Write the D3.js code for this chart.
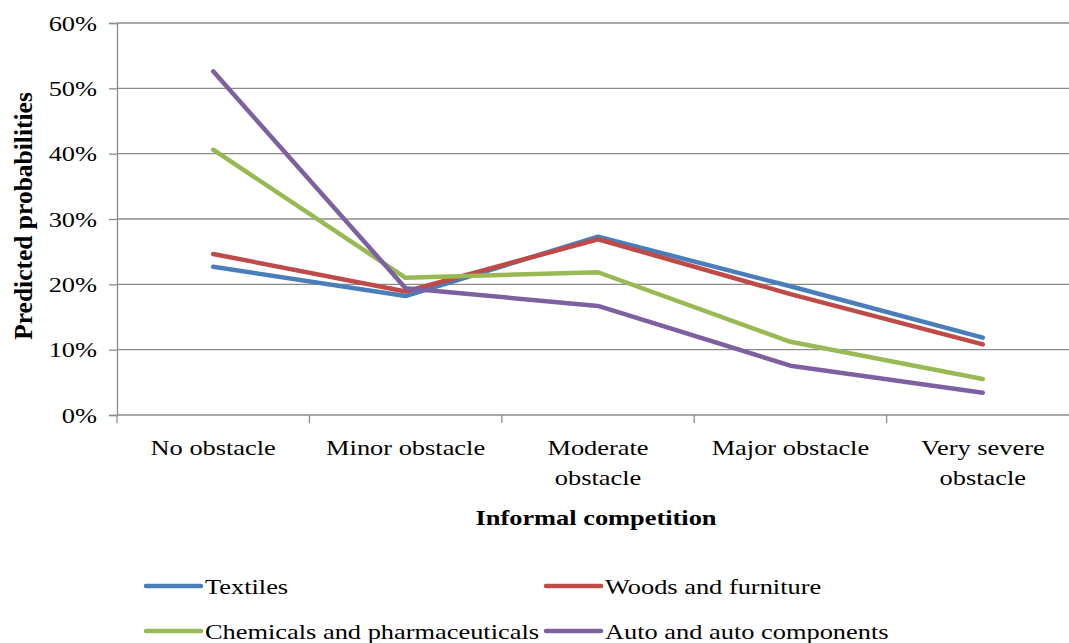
<!DOCTYPE html>
<html>
<head>
<meta charset="utf-8">
<script src="https://cdn.jsdelivr.net/npm/d3@7"></script>
<style>
  html, body { margin: 0; padding: 0; background: #fff; }
  svg { display: block; font-family: "Liberation Serif", "Times New Roman", serif; }
</style>
</head>
<body>
<svg id="chart" width="1069" height="643"></svg>
<script>
// ---- data ----
const categories = ["No obstacle", "Minor obstacle", "Moderate obstacle", "Major obstacle", "Very severe obstacle"];
const seriesNames = ["Textiles", "Woods and furniture", "Chemicals and pharmaceuticals", "Auto and auto components"];
const textiles  = [0.227, 0.182, 0.273, 0.197, 0.1185];
const woods     = [0.2465, 0.189, 0.269, 0.185, 0.108];
const chemicals = [0.406, 0.210, 0.2185, 0.112, 0.055];
const auto      = [0.526, 0.194, 0.167, 0.0755, 0.034];
const yTicks = [0, 0.1, 0.2, 0.3, 0.4, 0.5, 0.6];
const xTitle = "Informal competition";
const yTitle = "Predicted probabilities";

const seriesValues = [textiles, woods, chemicals, auto];
const colors = ["#4A7EBB", "#BE4B48", "#98B954", "#7D60A0"];

// ---- layout ----
const svg = d3.select("#chart");
const plotLeft = 117, plotTop = 23, plotBottom = 415;
const band = 192.4;
const SX = 1.2;       // horizontal stretch of text
const FS = 22;

const x = d3.scaleBand().domain(categories).range([plotLeft, plotLeft + band * categories.length]).padding(0);
const y = d3.scaleLinear().domain([0, 0.6]).range([plotBottom, plotTop]);

const gridColor = "#8c8c8c";

function stext(g, px, py, str, anchor, weight) {
  return g.append("text")
    .attr("transform", `translate(${px},${py}) scale(${SX},1)`)
    .attr("text-anchor", anchor || "start")
    .attr("font-size", FS)
    .attr("font-weight", weight || "normal")
    .attr("fill", "#000")
    .text(str);
}

// gridlines
svg.append("g").selectAll("line").data(yTicks.filter(d => d > 0)).join("line")
  .attr("x1", plotLeft).attr("x2", 1069)
  .attr("y1", d => y(d)).attr("y2", d => y(d))
  .attr("stroke", gridColor).attr("stroke-width", 1.3);

// y axis
const yAxis = svg.append("g").attr("transform", `translate(${plotLeft},0)`)
  .call(d3.axisLeft(y).tickValues(yTicks).tickSize(8).tickFormat(""));
yAxis.select(".domain").attr("stroke", gridColor).attr("stroke-width", 1.3);
yAxis.selectAll(".tick line").attr("stroke", gridColor).attr("stroke-width", 1.3);
yAxis.selectAll(".tick text").remove();
const yLab = svg.append("g");
yTicks.forEach(t => stext(yLab, 97, y(t) + 7.5, d3.format(".0%")(t), "end"));

// x axis
const boundaries = d3.range(categories.length + 1).map(i => plotLeft + i * x.bandwidth());
svg.append("line").attr("x1", plotLeft).attr("x2", 1069).attr("y1", plotBottom).attr("y2", plotBottom)
  .attr("stroke", gridColor).attr("stroke-width", 1.3);
svg.append("g").selectAll("line").data(boundaries).join("line")
  .attr("x1", d => d).attr("x2", d => d).attr("y1", plotBottom).attr("y2", plotBottom + 8)
  .attr("stroke", gridColor).attr("stroke-width", 1.3);

// category labels with wrapping
const xLab = svg.append("g");
const measure = svg.append("text").attr("font-size", FS).attr("visibility", "hidden");
function width(s) { measure.text(s); return measure.node().getComputedTextLength() * SX; }
categories.forEach(c => {
  const words = c.split(" ");
  const lines = [];
  let cur = "";
  words.forEach(w => {
    const t = cur ? cur + " " + w : w;
    if (cur && width(t) > 178) { lines.push(cur); cur = w; } else cur = t;
  });
  lines.push(cur);
  const cx = x(c) + x.bandwidth() / 2;
  lines.forEach((ln, i) => stext(xLab, cx, 455 + i * 30, ln, "middle"));
});
measure.remove();

// axis titles
stext(svg, 596, 525, xTitle, "middle", "bold");
svg.append("text")
  .attr("transform", `translate(32,216) rotate(-90)`)
  .attr("text-anchor", "middle")
  .attr("font-size", 25.5)
  .attr("font-weight", "bold")
  .attr("fill", "#000")
  .text(yTitle);

// lines
const line = d3.line().x((d, i) => x(categories[i]) + x.bandwidth() / 2).y(d => y(d));
svg.append("g").selectAll("path").data(seriesValues).join("path")
  .attr("d", d => line(d))
  .attr("fill", "none")
  .attr("stroke", (d, i) => colors[i])
  .attr("stroke-width", 4.5)
  .attr("stroke-linejoin", "round")
  .attr("stroke-linecap", "round");

// legend
const legend = svg.append("g");
const legPos = [[146, 586], [546, 586], [146, 631], [546, 631]];
seriesNames.forEach((n, i) => {
  const [lx, ly] = legPos[i];
  legend.append("line").attr("x1", lx).attr("x2", lx + 55).attr("y1", ly).attr("y2", ly)
    .attr("stroke", colors[i]).attr("stroke-width", 4.5).attr("stroke-linecap", "round");
  stext(legend, lx + 59, ly + 7.5, n, "start");
});
</script>
</body>
</html>
